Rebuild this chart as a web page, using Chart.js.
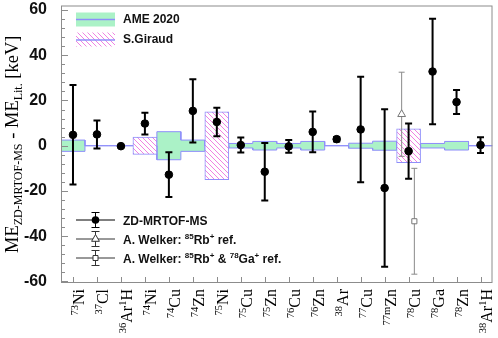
<!DOCTYPE html>
<html>
<head>
<meta charset="utf-8">
<script src="https://cdn.jsdelivr.net/npm/chart.js@4.4.1/dist/chart.umd.min.js"></script>
<style>
  html, body { margin: 0; padding: 0; background: #fff; }
  #c { display: block; }
</style>
</head>
<body>
<canvas id="c" width="498" height="338"></canvas>
<script>
// nuclides, ^{..} = superscript
const nuclides = ["^{73}Ni", "^{37}Cl", "^{36}Ar^{1}H", "^{74}Ni", "^{74}Cu", "^{74}Zn", "^{75}Ni", "^{75}Cu", "^{75}Zn",
  "^{76}Cu", "^{76}Zn", "^{38}Ar", "^{77}Cu", "^{77m}Zn", "^{78}Cu", "^{78}Ga", "^{78}Zn", "^{38}Ar^{1}H"];

// ZD-MRTOF-MS minus literature (keV)
const zdDelta = [4.8, 5, -0.2, 9.8, -12.8, 15.4, 10.5, 0.3, -11.5, -0.3, 6.1, 2.9, 7.2, -18.7, -2.4, 32.8, 19.3, 0.3];
const zdErr = [22, 6.2, 0.3, 4.8, 9.9, 14, 6.3, 3.3, 12.7, 2.8, 9, 1.0, 23.3, 34.8, 12.2, 23.3, 5.3, 3.5];

// literature uncertainties
const ameErr = [2.5, 0, 0, 0, 6.2, 2.5, 0, 1, 1.9, 1, 1.9, 0, 1.1, 2, 0, 1, 1.9, 0];
const giraudErr = [null, null, null, 3.8, null, null, 15, null, null, null, null, null, null, null, 7.5, null, null, null];

// A. Welker, 78Cu only
const welkerNuclide = "^{78}Cu";
const welkerRbDelta = [13.9];
const welkerRbErr = [18.6];
const welkerRbGaDelta = [-33.4];
const welkerRbGaErr = [23.4];

const yTicks = [-60, -40, -20, 0, 20, 40, 60];
const yMinorStep = 4;
const yTitle = "ME_{ZD-MRTOF-MS} - ME_{Lit.} [keV]";

const GREEN = "#abf2c7";
const BLUE = "#8e8efa";
const AXIS = "#8c8c8c";
const SANS = '"Liberation Sans", Arial, sans-serif';
const SERIF = '"Liberation Serif", "Times New Roman", serif';

// "^{a}" -> sup, "_{a}" -> sub
function parse(s) {
  const out = [];
  s.replace(/([\^_])\{([^}]*)\}|([^\^_]+)/g, (m, k, inner, txt) => {
    if (k) out.push({ t: inner, k: k === "^" ? "sup" : "sub" });
    else out.push({ t: txt, k: "" });
  });
  return out;
}

function drawRich(ctx, parts, x, y, align, big, small, rise, drop) {
  let w = 0;
  parts.forEach(p => { ctx.font = p.k ? small : big; p.w = ctx.measureText(p.t).width; w += p.w; });
  let cx = align === "right" ? x - w : align === "center" ? x - w / 2 : x;
  ctx.textAlign = "left";
  parts.forEach(p => {
    ctx.font = p.k ? small : big;
    const dy = p.k === "sup" ? -rise : p.k === "sub" ? drop : 0;
    ctx.fillText(p.t, cx, y + dy);
    cx += p.w;
  });
}

function hatchPattern(ctx) {
  const c = document.createElement("canvas");
  c.width = c.height = 5;
  const g = c.getContext("2d");
  g.fillStyle = "#fff";
  g.fillRect(0, 0, 5, 5);
  g.strokeStyle = "rgb(240,130,225)";
  g.lineWidth = 1;
  g.beginPath();
  g.moveTo(-1, -1); g.lineTo(6, 6);
  g.moveTo(-1, 4); g.lineTo(1, 6);
  g.moveTo(4, -1); g.lineTo(6, 1);
  g.stroke();
  return ctx.createPattern(c, "repeat");
}

// error bars drawn right before each point dataset
const errorBars = {
  id: "errorBars",
  beforeDatasetDraw(chart, args) {
    const ds = chart.data.datasets[args.index];
    if (!ds.errors) return;
    const { ctx, scales: { x, y } } = chart;
    ctx.save();
    ctx.strokeStyle = ds.errColor;
    ctx.lineWidth = ds.errWidth;
    ds.data.forEach((d, i) => {
      const e = ds.errors[i];
      const px = x.getPixelForValue(d.x);
      const top = y.getPixelForValue(d.y + e);
      const bot = y.getPixelForValue(d.y - e);
      ctx.beginPath();
      ctx.moveTo(px, top); ctx.lineTo(px, bot);
      ctx.moveTo(px - ds.capHalf, top); ctx.lineTo(px + ds.capHalf, top);
      ctx.moveTo(px - ds.capHalf, bot); ctx.lineTo(px + ds.capHalf, bot);
      ctx.stroke();
    });
    ctx.restore();
  }
};

function legendMarker(ctx, kind, cx, cy) {
  ctx.beginPath();
  if (kind === "circle") {
    ctx.arc(cx, cy, 3.8, 0, Math.PI * 2);
    ctx.fillStyle = "#000"; ctx.fill();
  } else if (kind === "triangle") {
    ctx.moveTo(cx, cy - 4.5); ctx.lineTo(cx + 3.9, cy + 2.3); ctx.lineTo(cx - 3.9, cy + 2.3); ctx.closePath();
    ctx.fillStyle = "#fff"; ctx.fill(); ctx.stroke();
  } else {
    ctx.rect(cx - 2.5, cy - 2.5, 5, 5);
    ctx.fillStyle = "#fff"; ctx.fill(); ctx.stroke();
  }
}

// frame, ticks, rich labels, legends
const decor = {
  id: "decor",
  afterDraw(chart) {
    const { ctx, chartArea: a, scales: { x, y } } = chart;
    ctx.save();
    ctx.strokeStyle = AXIS;
    ctx.lineWidth = 1;
    ctx.strokeRect(a.left + 0.5, a.top + 0.5, a.right - a.left - 1, a.bottom - a.top - 1);
    ctx.beginPath();
    for (let v = yTicks[0]; v <= yTicks[yTicks.length - 1]; v += yMinorStep) {
      const py = Math.round(y.getPixelForValue(v)) + 0.5;
      const len = yTicks.includes(v) ? 7 : 4;
      ctx.moveTo(a.left, py); ctx.lineTo(a.left + len, py);
    }
    nuclides.forEach((_, i) => {
      const px = Math.round(x.getPixelForValue(i)) + 0.5;
      ctx.moveTo(px, a.bottom); ctx.lineTo(px, a.bottom - 6);
    });
    ctx.stroke();

    // x labels, rotated
    ctx.fillStyle = "#000";
    ctx.textBaseline = "alphabetic";
    nuclides.forEach((lab, i) => {
      const px = x.getPixelForValue(i);
      ctx.save();
      ctx.translate(px + 11, a.bottom + 6);
      ctx.rotate(-Math.PI / 2);
      drawRich(ctx, parse(lab), 0, 0, "right", "16px " + SERIF, "10.5px " + SERIF, 6, 0);
      ctx.restore();
    });

    // y title
    ctx.save();
    ctx.translate(18, (a.top + a.bottom) / 2);
    ctx.rotate(-Math.PI / 2);
    drawRich(ctx, parse(yTitle), 0, 0, "center", "18.5px " + SERIF, "12px " + SERIF, 0, 4);
    ctx.restore();

    // legend: literature bands
    const hatch = chart.data.datasets[3].backgroundColor;
    ctx.fillStyle = GREEN;
    ctx.fillRect(76, 12.5, 39, 14);
    ctx.fillStyle = hatch;
    ctx.fillRect(76, 32.5, 39, 14);
    ctx.strokeStyle = BLUE;
    ctx.lineWidth = 1.5;
    ctx.beginPath();
    ctx.moveTo(76, 19.5); ctx.lineTo(115, 19.5);
    ctx.moveTo(76, 40); ctx.lineTo(115, 40);
    ctx.stroke();
    ctx.fillStyle = "#111";
    ctx.font = "bold 12px " + SANS;
    ctx.textBaseline = "middle";
    ctx.textAlign = "left";
    ctx.fillText("AME 2020", 123, 19.5);
    ctx.fillText("S.Giraud", 123, 40);

    // legend: measurements
    const rows = [
      { text: "ZD-MRTOF-MS", kind: "circle", color: "#000", yy: 220 },
      { text: "A. Welker: ^{85}Rb^{+} ref.", kind: "triangle", color: "#333", yy: 239 },
      { text: "A. Welker: ^{85}Rb^{+} & ^{78}Ga^{+} ref.", kind: "square", color: "#333", yy: 258 }
    ];
    rows.forEach(r => {
      ctx.strokeStyle = r.color;
      ctx.lineWidth = 1;
      ctx.beginPath();
      ctx.moveTo(76, r.yy); ctx.lineTo(115, r.yy);
      ctx.moveTo(95.5, r.yy - 7.5); ctx.lineTo(95.5, r.yy + 7.5);
      ctx.moveTo(91.5, r.yy - 7.5); ctx.lineTo(99.5, r.yy - 7.5);
      ctx.moveTo(91.5, r.yy + 7.5); ctx.lineTo(99.5, r.yy + 7.5);
      ctx.stroke();
      legendMarker(ctx, r.kind, 95.5, r.yy);
      ctx.fillStyle = "#111";
      ctx.textBaseline = "alphabetic";
      drawRich(ctx, parse(r.text), 123, r.yy + 4.5, "left", "bold 12px " + SANS, "bold 8px " + SANS, 4.5, 0);
    });
    ctx.restore();
  }
};

const canvas = document.getElementById("c");
const hatch = hatchPattern(canvas.getContext("2d"));
const wIdx = nuclides.indexOf(welkerNuclide);

new Chart(canvas, {
  type: "scatter",
  data: {
    datasets: [
      {
        label: "ZD-MRTOF-MS",
        data: zdDelta.map((v, i) => ({ x: i, y: v })),
        errors: zdErr, errColor: "#000", errWidth: 2, capHalf: 3.5,
        pointStyle: "circle", pointRadius: 3.8,
        pointBackgroundColor: "#000", pointBorderColor: "#000", pointBorderWidth: 1,
        order: 0
      },
      {
        label: "A. Welker: 85Rb+ ref.",
        data: welkerRbDelta.map(v => ({ x: wIdx - 0.29, y: v })),
        errors: welkerRbErr, errColor: "#8a8a8a", errWidth: 1, capHalf: 3,
        pointStyle: "triangle", pointRadius: 4.5,
        pointBackgroundColor: "#fff", pointBorderColor: "#777", pointBorderWidth: 1,
        order: 1
      },
      {
        label: "A. Welker: 85Rb+ & 78Ga+ ref.",
        data: welkerRbGaDelta.map(v => ({ x: wIdx + 0.24, y: v })),
        errors: welkerRbGaErr, errColor: "#8a8a8a", errWidth: 1, capHalf: 3,
        pointStyle: "rect", pointRadius: 3.6,
        pointBackgroundColor: "#fff", pointBorderColor: "#777", pointBorderWidth: 1,
        order: 2
      },
      {
        type: "bar",
        label: "S.Giraud",
        data: giraudErr.map((e, i) => ({ x: i, y: e == null ? null : [-e, e] })),
        backgroundColor: hatch, borderColor: BLUE, borderWidth: 1, borderSkipped: false,
        barPercentage: 1, categoryPercentage: 1,
        order: 3
      },
      {
        type: "line",
        label: "AME 2020 upper",
        data: ameErr.flatMap((e, i) => [{ x: i - 0.5, y: e }, { x: i + 0.5, y: e }]),
        borderColor: BLUE, borderWidth: 1, pointRadius: 0, fill: false, tension: 0,
        order: 4
      },
      {
        type: "line",
        label: "AME 2020",
        data: ameErr.flatMap((e, i) => [{ x: i - 0.5, y: -e }, { x: i + 0.5, y: -e }]),
        borderColor: BLUE, borderWidth: 1, pointRadius: 0, fill: "-1", backgroundColor: GREEN, tension: 0,
        order: 5
      }
    ]
  },
  options: {
    responsive: false,
    animation: false,
    devicePixelRatio: 1,
    events: [],
    layout: { padding: { top: 4, right: 3, left: 0, bottom: 0 } },
    plugins: { legend: { display: false }, tooltip: { enabled: false } },
    scales: {
      x: {
        type: "linear", min: -0.5, max: 17.5, offset: false,
        grid: { display: false, offset: false }, border: { display: false },
        ticks: { display: false },
        afterBuildTicks: s => { s.ticks = nuclides.map((_, i) => ({ value: i })); },
        afterFit: s => { s.height = 55; s.paddingLeft = 0; s.paddingRight = 0; }
      },
      y: {
        type: "linear", min: -60.7, max: 62,
        grid: { display: false }, border: { display: false },
        ticks: { font: { family: SANS, size: 16, weight: "bold" }, color: "#111", padding: 6 },
        afterBuildTicks: s => { s.ticks = yTicks.map(v => ({ value: v })); },
        afterFit: s => { s.width = 61; s.paddingTop = 0; s.paddingBottom = 0; }
      }
    }
  },
  plugins: [errorBars, decor]
});
</script>
</body>
</html>
